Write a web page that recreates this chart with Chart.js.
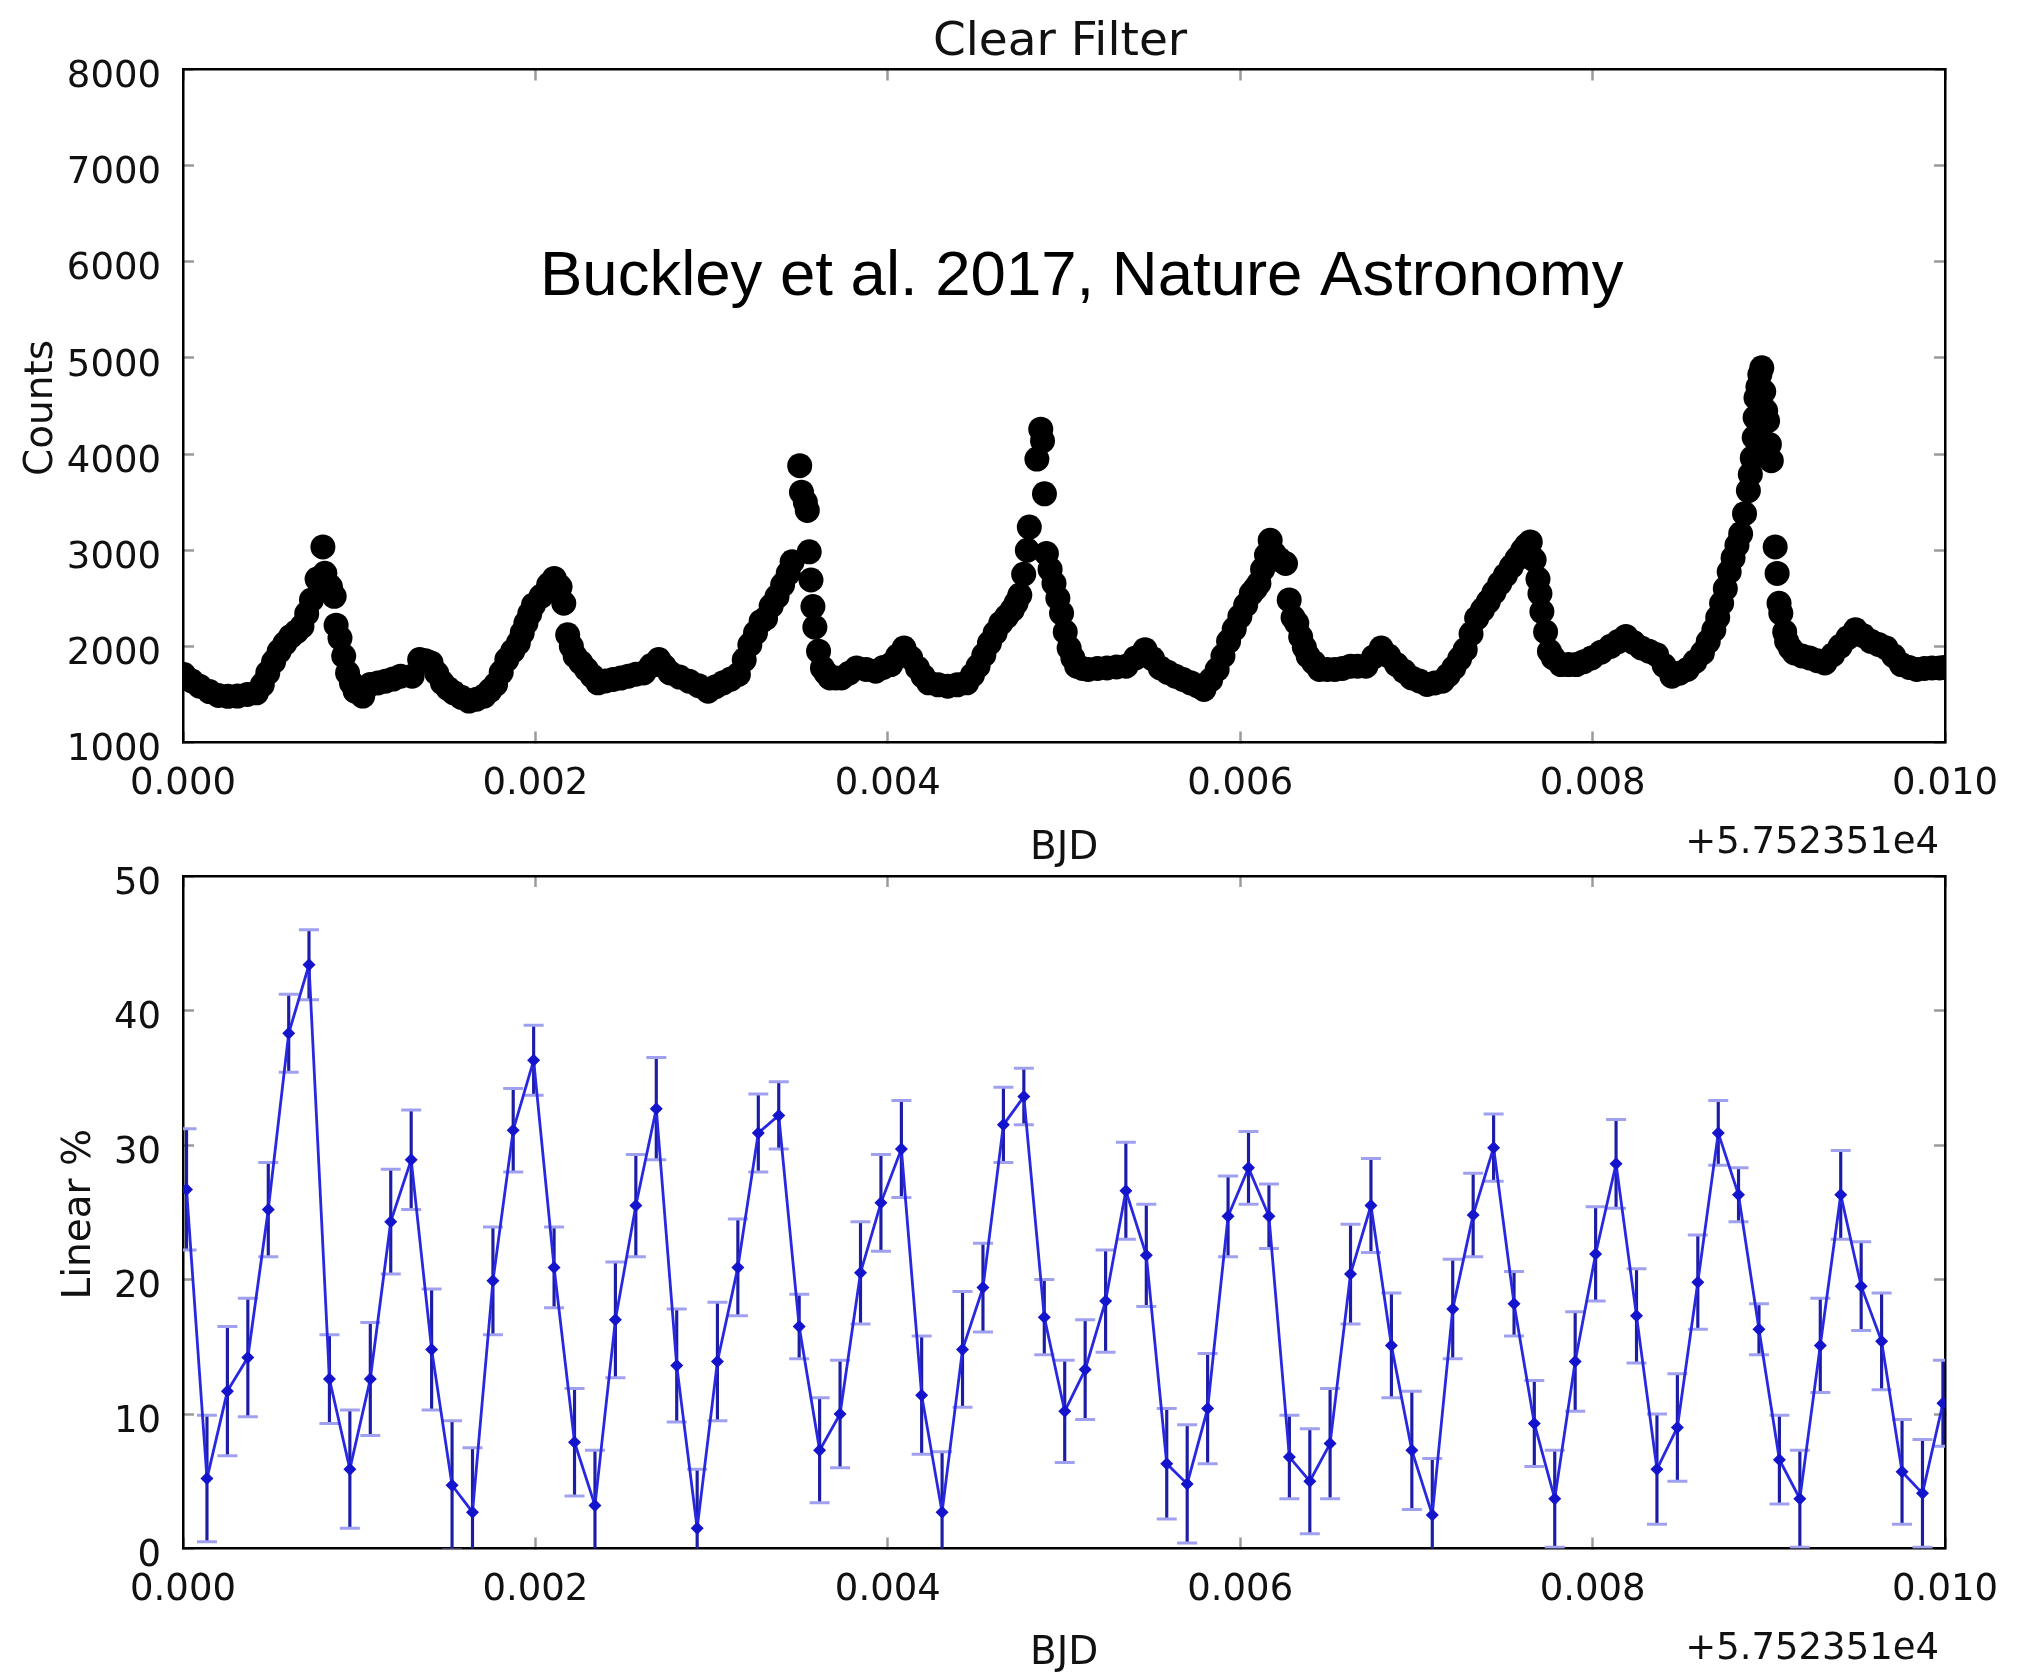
<!DOCTYPE html>
<html>
<head>
<meta charset="utf-8">
<title>Clear Filter</title>
<script src="https://cdn.jsdelivr.net/npm/chart.js@4.4.1/dist/chart.umd.min.js"></script>
<style>
  html, body { margin: 0; padding: 0; background: #fff; }
  #wrap { position: relative; width: 2029px; height: 1672px; }
  #wrap canvas { position: absolute; left: 0; top: 0; }
</style>
</head>
<body>
<div id="wrap">
  <canvas id="counts" width="2029" height="1672"></canvas>
  <canvas id="linear" width="2029" height="1672"></canvas>
</div>
<script>
// Clear filter photometry + linear polarisation, time = BJD - 57523.51 (days)
var lcTime = [
  0.000005, 0.000050, 0.000094, 0.000150, 0.000201, 0.000255, 0.000309, 0.000365, 0.000417, 0.000450,
  0.000481, 0.000514, 0.000546, 0.000578, 0.000611, 0.000643, 0.000675, 0.000702, 0.000729, 0.000761,
  0.000794, 0.000805, 0.000837, 0.000858, 0.000869, 0.000891, 0.000912, 0.000934, 0.000956, 0.000977,
  0.001020, 0.001063, 0.001106, 0.001149, 0.001192, 0.001235, 0.001300, 0.001343, 0.001376, 0.001408,
  0.001440, 0.001472, 0.001505, 0.001537, 0.001580, 0.001623, 0.001666, 0.001709, 0.001742, 0.001774,
  0.001806, 0.001838, 0.001871, 0.001903, 0.001925, 0.001946, 0.001968, 0.001989, 0.002032, 0.002075,
  0.002107, 0.002140, 0.002161, 0.002183, 0.002204, 0.002226, 0.002258, 0.002290, 0.002323, 0.002355,
  0.002398, 0.002441, 0.002484, 0.002527, 0.002570, 0.002614, 0.002657, 0.002700, 0.002732, 0.002764,
  0.002818, 0.002872, 0.002926, 0.002980, 0.003023, 0.003066, 0.003109, 0.003152, 0.003185, 0.003217,
  0.003249, 0.003281, 0.003306, 0.003338, 0.003371, 0.003403, 0.003435, 0.003457, 0.003500, 0.003510,
  0.003532, 0.003543, 0.003554, 0.003564, 0.003575, 0.003586, 0.003607, 0.003629, 0.003650, 0.003672,
  0.003705, 0.003737, 0.003780, 0.003823, 0.003877, 0.003931, 0.003974, 0.004017, 0.004055, 0.004092,
  0.004130, 0.004168, 0.004200, 0.004232, 0.004286, 0.004340, 0.004394, 0.004448, 0.004480, 0.004512,
  0.004545, 0.004577, 0.004609, 0.004641, 0.004674, 0.004706, 0.004728, 0.004749, 0.004771, 0.004792,
  0.004803, 0.004846, 0.004868, 0.004878, 0.004889, 0.004900, 0.004921, 0.004943, 0.004965, 0.004986,
  0.005007, 0.005029, 0.005050, 0.005072, 0.005105, 0.005137, 0.005190, 0.005244, 0.005298, 0.005352,
  0.005406, 0.005460, 0.005503, 0.005546, 0.005589, 0.005632, 0.005675, 0.005718, 0.005756, 0.005794,
  0.005832, 0.005869, 0.005902, 0.005934, 0.005966, 0.005998, 0.006031, 0.006063, 0.006085, 0.006106,
  0.006127, 0.006149, 0.006170, 0.006192, 0.006225, 0.006257, 0.006278, 0.006300, 0.006321, 0.006343,
  0.006364, 0.006386, 0.006418, 0.006450, 0.006494, 0.006537, 0.006580, 0.006626, 0.006666, 0.006713,
  0.006757, 0.006800, 0.006843, 0.006887, 0.006930, 0.006973, 0.007017, 0.007060, 0.007104, 0.007147,
  0.007180, 0.007212, 0.007245, 0.007277, 0.007310, 0.007342, 0.007375, 0.007408, 0.007440, 0.007473,
  0.007505, 0.007538, 0.007570, 0.007603, 0.007625, 0.007646, 0.007668, 0.007690, 0.007701, 0.007712,
  0.007733, 0.007755, 0.007777, 0.007820, 0.007863, 0.007907, 0.007950, 0.007994, 0.008048, 0.008102,
  0.008145, 0.008189, 0.008232, 0.008276, 0.008320, 0.008363, 0.008406, 0.008450, 0.008493, 0.008537,
  0.008580, 0.008623, 0.008656, 0.008688, 0.008710, 0.008732, 0.008753, 0.008775, 0.008797, 0.008819,
  0.008840, 0.008862, 0.008884, 0.008895, 0.008906, 0.008917, 0.008922, 0.008927, 0.008938, 0.008949,
  0.008960, 0.008971, 0.008982, 0.008993, 0.009003, 0.009014, 0.009036, 0.009047, 0.009058, 0.009068,
  0.009090, 0.009101, 0.009123, 0.009145, 0.009188, 0.009231, 0.009275, 0.009318, 0.009362, 0.009405,
  0.009449, 0.009492, 0.009536, 0.009579, 0.009622, 0.009666, 0.009709, 0.009752, 0.009796, 0.009839,
  0.009883, 0.009926, 0.009970, 0.009995
];
var lcCounts = [
  1707, 1640, 1586, 1530, 1490, 1480, 1483, 1500, 1517, 1600,
  1724, 1840, 1948, 2030, 2103, 2150, 2207, 2340, 2483, 2700,
  3034, 2760, 2620, 2520, 2220, 2086, 1900, 1724, 1620, 1534,
  1483, 1603, 1620, 1638, 1660, 1690, 1690, 1862, 1850, 1828,
  1720, 1621, 1560, 1517, 1470, 1431, 1450, 1483, 1540, 1603,
  1730, 1862, 1950, 2034, 2140, 2241, 2340, 2431, 2520, 2640,
  2707, 2620, 2448, 2121, 2000, 1897, 1830, 1759, 1690, 1621,
  1640, 1655, 1670, 1690, 1710, 1724, 1800, 1862, 1790, 1724,
  1680, 1638, 1590, 1534, 1580, 1621, 1660, 1707, 1860, 2017,
  2140, 2259, 2290, 2420, 2517, 2640, 2760, 2880, 3879, 3604,
  3500, 3414, 2983, 2690, 2414, 2200, 1950, 1776, 1720, 1672,
  1672, 1672, 1720, 1776, 1760, 1741, 1780, 1810, 1900, 1983,
  1880, 1776, 1690, 1621, 1600, 1586, 1600, 1621, 1700, 1793,
  1910, 2034, 2140, 2241, 2310, 2379, 2450, 2534, 2750, 3000,
  3241, 3948, 4259, 4138, 3586, 2966, 2800, 2655, 2500, 2345,
  2150, 1983, 1880, 1793, 1770, 1759, 1770, 1776, 1785, 1793,
  1880, 1966, 1870, 1776, 1730, 1690, 1655, 1621, 1590, 1552,
  1650, 1759, 1900, 2052, 2180, 2310, 2430, 2552, 2600, 2655,
  2800, 2950, 3103, 2966, 2900, 2862, 2483, 2300, 2241, 2100,
  1990, 1897, 1830, 1759, 1759, 1759, 1770, 1793, 1793, 1793,
  1890, 1983, 1900, 1810, 1740, 1672, 1640, 1603, 1620, 1638,
  1700, 1776, 1870, 1966, 2130, 2293, 2380, 2466, 2560, 2655,
  2740, 2828, 2910, 3000, 3050, 3086, 2900, 2700, 2550, 2362,
  2150, 1948, 1880, 1810, 1810, 1810, 1840, 1879, 1940, 2000,
  2050, 2103, 2040, 1983, 1950, 1914, 1800, 1690, 1720, 1759,
  1840, 1931, 2050, 2172, 2300, 2448, 2600, 2776, 2920, 3052,
  3170, 3380, 3620, 3790, 3960, 4172, 4380, 4586, 4700, 4828,
  4897, 4650, 4450, 4345, 4100, 3931, 3034, 2759, 2448, 2345,
  2150, 2052, 1980, 1931, 1900, 1879, 1850, 1828, 1910, 2000,
  2090, 2172, 2110, 2052, 2020, 1983, 1900, 1810, 1780, 1759,
  1770, 1776, 1776, 1780
];
var polTime = [
  0.000020, 0.000136, 0.000252, 0.000368, 0.000484, 0.000600, 0.000715, 0.000831, 0.000947, 0.001063,
  0.001179, 0.001295, 0.001411, 0.001527, 0.001643, 0.001759, 0.001874, 0.001990, 0.002106, 0.002222,
  0.002338, 0.002454, 0.002570, 0.002686, 0.002802, 0.002918, 0.003033, 0.003149, 0.003265, 0.003381,
  0.003497, 0.003613, 0.003729, 0.003845, 0.003961, 0.004077, 0.004192, 0.004308, 0.004424, 0.004540,
  0.004656, 0.004772, 0.004888, 0.005004, 0.005120, 0.005236, 0.005351, 0.005467, 0.005583, 0.005699,
  0.005815, 0.005931, 0.006047, 0.006163, 0.006279, 0.006395, 0.006510, 0.006626, 0.006742, 0.006858,
  0.006974, 0.007090, 0.007206, 0.007322, 0.007438, 0.007554, 0.007669, 0.007785, 0.007901, 0.008017,
  0.008133, 0.008249, 0.008365, 0.008481, 0.008597, 0.008713, 0.008828, 0.008944, 0.009060, 0.009176,
  0.009292, 0.009408, 0.009524, 0.009640, 0.009756, 0.009872, 0.009988
];
var polLinear = [
  26.7, 5.2, 11.7, 14.2, 25.2, 38.3, 43.4, 12.6, 5.9, 12.6,
  24.3, 28.9, 14.8, 4.7, 2.7, 19.9, 31.1, 36.3, 20.9, 7.9,
  3.2, 17.0, 25.5, 32.7, 13.6, 1.5, 13.9, 20.9, 30.9, 32.2,
  16.5, 7.3, 10.0, 20.5, 25.7, 29.7, 11.4, 2.7, 14.8, 19.4,
  31.5, 33.6, 17.2, 10.2, 13.3, 18.4, 26.6, 21.8, 6.3, 4.8,
  10.4, 24.7, 28.3, 24.7, 6.8, 5.0, 7.8, 20.4, 25.5, 15.1,
  7.3, 2.5, 17.8, 24.8, 29.8, 18.2, 9.3, 3.7, 13.9, 21.9,
  28.6, 17.3, 5.9, 9.0, 19.8, 30.9, 26.3, 16.3, 6.6, 3.7,
  15.1, 26.3, 19.5, 15.4, 5.7, 4.1, 10.8
];
var polError = [
  4.5, 4.7, 4.8, 4.4, 3.5, 2.9, 2.6, 3.3, 4.4, 4.2,
  3.9, 3.7, 4.5, 4.8, 4.8, 4.0, 3.1, 2.6, 3.0, 4.0,
  4.1, 4.3, 3.8, 3.8, 4.2, 4.4, 4.4, 3.6, 2.9, 2.5,
  2.4, 3.9, 4.0, 3.8, 3.6, 3.6, 4.4, 4.5, 4.3, 3.3,
  2.8, 2.1, 2.8, 3.8, 3.7, 3.8, 3.6, 3.8, 4.1, 4.4,
  4.1, 3.0, 2.7, 2.4, 3.1, 3.9, 4.1, 3.7, 3.5, 3.9,
  4.4, 4.2, 3.7, 3.1, 2.5, 2.4, 3.2, 3.6, 3.7, 3.5,
  3.3, 3.5, 4.1, 4.0, 3.5, 2.4, 2.0, 1.9, 3.3, 3.6,
  3.5, 3.3, 3.3, 3.6, 3.9, 4.0, 3.2
];
var timeTicks = [0, 0.002, 0.004, 0.006, 0.008, 0.01];
var countTicks = [1000, 2000, 3000, 4000, 5000, 6000, 7000, 8000];
var linearTicks = [0, 10, 20, 30, 40, 50];

var tickFont = { family: "DejaVu Sans", size: 37, lineHeight: 1.2 };
var labelFont = { family: "DejaVu Sans", size: 39, lineHeight: 1.2 };

var fmtTime = function (v) { return v.toFixed(3); };
var fmtInt = function (v) { return String(v); };

// text drawn on top of the chart (title, axis offset, y titles, credit)
var figureText = {
  id: "figureText",
  afterDraw: function (chart, args, opts) {
    var ctx = chart.ctx;
    var area = chart.chartArea;
    (opts.items || []).forEach(function (item) {
      var x = item.ax === "center" ? (area.left + area.right) / 2 : area[item.ax];
      var y = item.ay === "middle" ? (area.top + area.bottom) / 2 : area[item.ay];
      ctx.save();
      ctx.translate(x + item.dx, y + item.dy);
      if (item.rotate) ctx.rotate(item.rotate);
      ctx.font = item.font;
      ctx.fillStyle = item.color || "#111";
      ctx.textAlign = item.align;
      ctx.textBaseline = item.baseline;
      ctx.fillText(item.text, 0, 0);
      ctx.restore();
    });
  }
};

// box axis: black frame, short grey ticks pointing inwards
var makeAxis = function (position, values, size, label, labelPad, format) {
  var horizontal = position === "bottom" || position === "top";
  return {
    type: "linear",
    position: position,
    min: values[0],
    max: values[values.length - 1],
    offset: false,
    afterBuildTicks: function (scale) {
      scale.ticks = values.map(function (v) { return { value: v }; });
    },
    afterFit: function (scale) {
      if (horizontal) { scale.height = size; } else { scale.width = size; }
    },
    ticks: {
      display: !!format,
      font: tickFont,
      color: "#111",
      padding: horizontal ? 31 : 33,
      labelOffset: horizontal ? 0 : 8,
      maxRotation: 0,
      autoSkip: false,
      callback: format || function () { return ""; }
    },
    grid: {
      drawOnChartArea: false,
      drawTicks: true,
      tickLength: -11,
      tickColor: "#9a9a9a",
      tickWidth: 2.5,
      offset: false
    },
    border: { display: true, color: "#000", width: 2.5 },
    title: {
      display: !!label,
      text: label || "",
      font: labelFont,
      color: "#111",
      padding: labelPad || 0
    }
  };
};

var offsetLabel = function (dy) {
  return { text: "+5.752351e4", font: '37px "DejaVu Sans"', align: "right", baseline: "middle", ax: "right", ay: "bottom", dx: -6, dy: dy };
};
var yTitle = function (text, dx) {
  return { text: text, font: '39px "DejaVu Sans"', align: "center", baseline: "middle", ax: "left", ay: "middle", dx: dx, dy: 2, rotate: -Math.PI / 2 };
};

var countsChart = new Chart(document.getElementById("counts").getContext("2d"), {
  type: "scatter",
  data: {
    datasets: [{
      data: lcTime.map(function (t, i) { return { x: t, y: lcCounts[i] }; }),
      pointRadius: 12.5,
      pointBackgroundColor: "#000",
      pointBorderWidth: 0,
      clip: 0
    }]
  },
  options: {
    responsive: false,
    animation: false,
    events: [],
    layout: { padding: { left: 0, top: 69.5, right: 69, bottom: 799.5 } },
    plugins: {
      legend: { display: false },
      tooltip: { enabled: false },
      figureText: {
        items: [
          { text: "Clear Filter", font: '47px "DejaVu Sans"', align: "center", baseline: "middle", ax: "center", ay: "top", dx: -4, dy: -27 },
          { text: "Buckley et al. 2017, Nature Astronomy", font: '63.5px "Liberation Sans"', color: "#000", align: "left", baseline: "alphabetic", ax: "left", ay: "top", dx: 357, dy: 225 },
          offsetLabel(101),
          yTitle("Counts", -141)
        ]
      }
    },
    scales: {
      x: makeAxis("bottom", timeTicks, 130, "BJD", { top: 0, bottom: 0 }, fmtTime),
      x2: makeAxis("top", timeTicks, 0),
      y: makeAxis("left", countTicks, 183, null, null, fmtInt),
      y2: makeAxis("right", countTicks, 0)
    }
  },
  plugins: [figureText]
});

var linearChart = new Chart(document.getElementById("linear").getContext("2d"), {
  type: "scatter",
  data: {
    datasets: [
      {
        type: "scatter",
        data: polTime.map(function (t, i) { return { x: t, y: polLinear[i] }; }),
        showLine: true,
        borderColor: "rgb(40,40,225)",
        borderWidth: 2.8,
        tension: 0,
        pointStyle: "rectRot",
        pointRadius: 6.5,
        pointBackgroundColor: "rgb(20,20,205)",
        pointBorderWidth: 0,
        order: 1,
        clip: 0
      },
      {
        type: "scatter",
        data: polTime.map(function (t, i) { return { x: t, y: polLinear[i] + polError[i] }; }),
        pointStyle: "line",
        pointRadius: 10,
        pointBorderWidth: 3,
        pointBorderColor: "rgb(160,160,240)",
        order: 2,
        clip: 0
      },
      {
        type: "scatter",
        data: polTime.map(function (t, i) { return { x: t, y: polLinear[i] - polError[i] }; }),
        pointStyle: "line",
        pointRadius: 10,
        pointBorderWidth: 3,
        pointBorderColor: "rgb(160,160,240)",
        order: 2,
        clip: 0
      },
      {
        type: "bar",
        data: polTime.map(function (t, i) { return { x: t, y: [polLinear[i] - polError[i], polLinear[i] + polError[i]] }; }),
        backgroundColor: "rgb(28,28,165)",
        borderWidth: 0,
        barThickness: 2.5,
        order: 3,
        clip: 0
      }
    ]
  },
  options: {
    responsive: false,
    animation: false,
    events: [],
    layout: { padding: { left: 0, top: 876, right: 69, bottom: 0 } },
    plugins: {
      legend: { display: false },
      tooltip: { enabled: false },
      figureText: { items: [offsetLabel(101), yTitle("Linear %", -103)] }
    },
    scales: {
      x: makeAxis("bottom", timeTicks, 123.5, "BJD", { top: 0, bottom: -5 }, fmtTime),
      x2: makeAxis("top", timeTicks, 0),
      y: makeAxis("left", linearTicks, 183, null, null, fmtInt),
      y2: makeAxis("right", linearTicks, 0)
    }
  },
  plugins: [figureText]
});
</script>
</body>
</html>
